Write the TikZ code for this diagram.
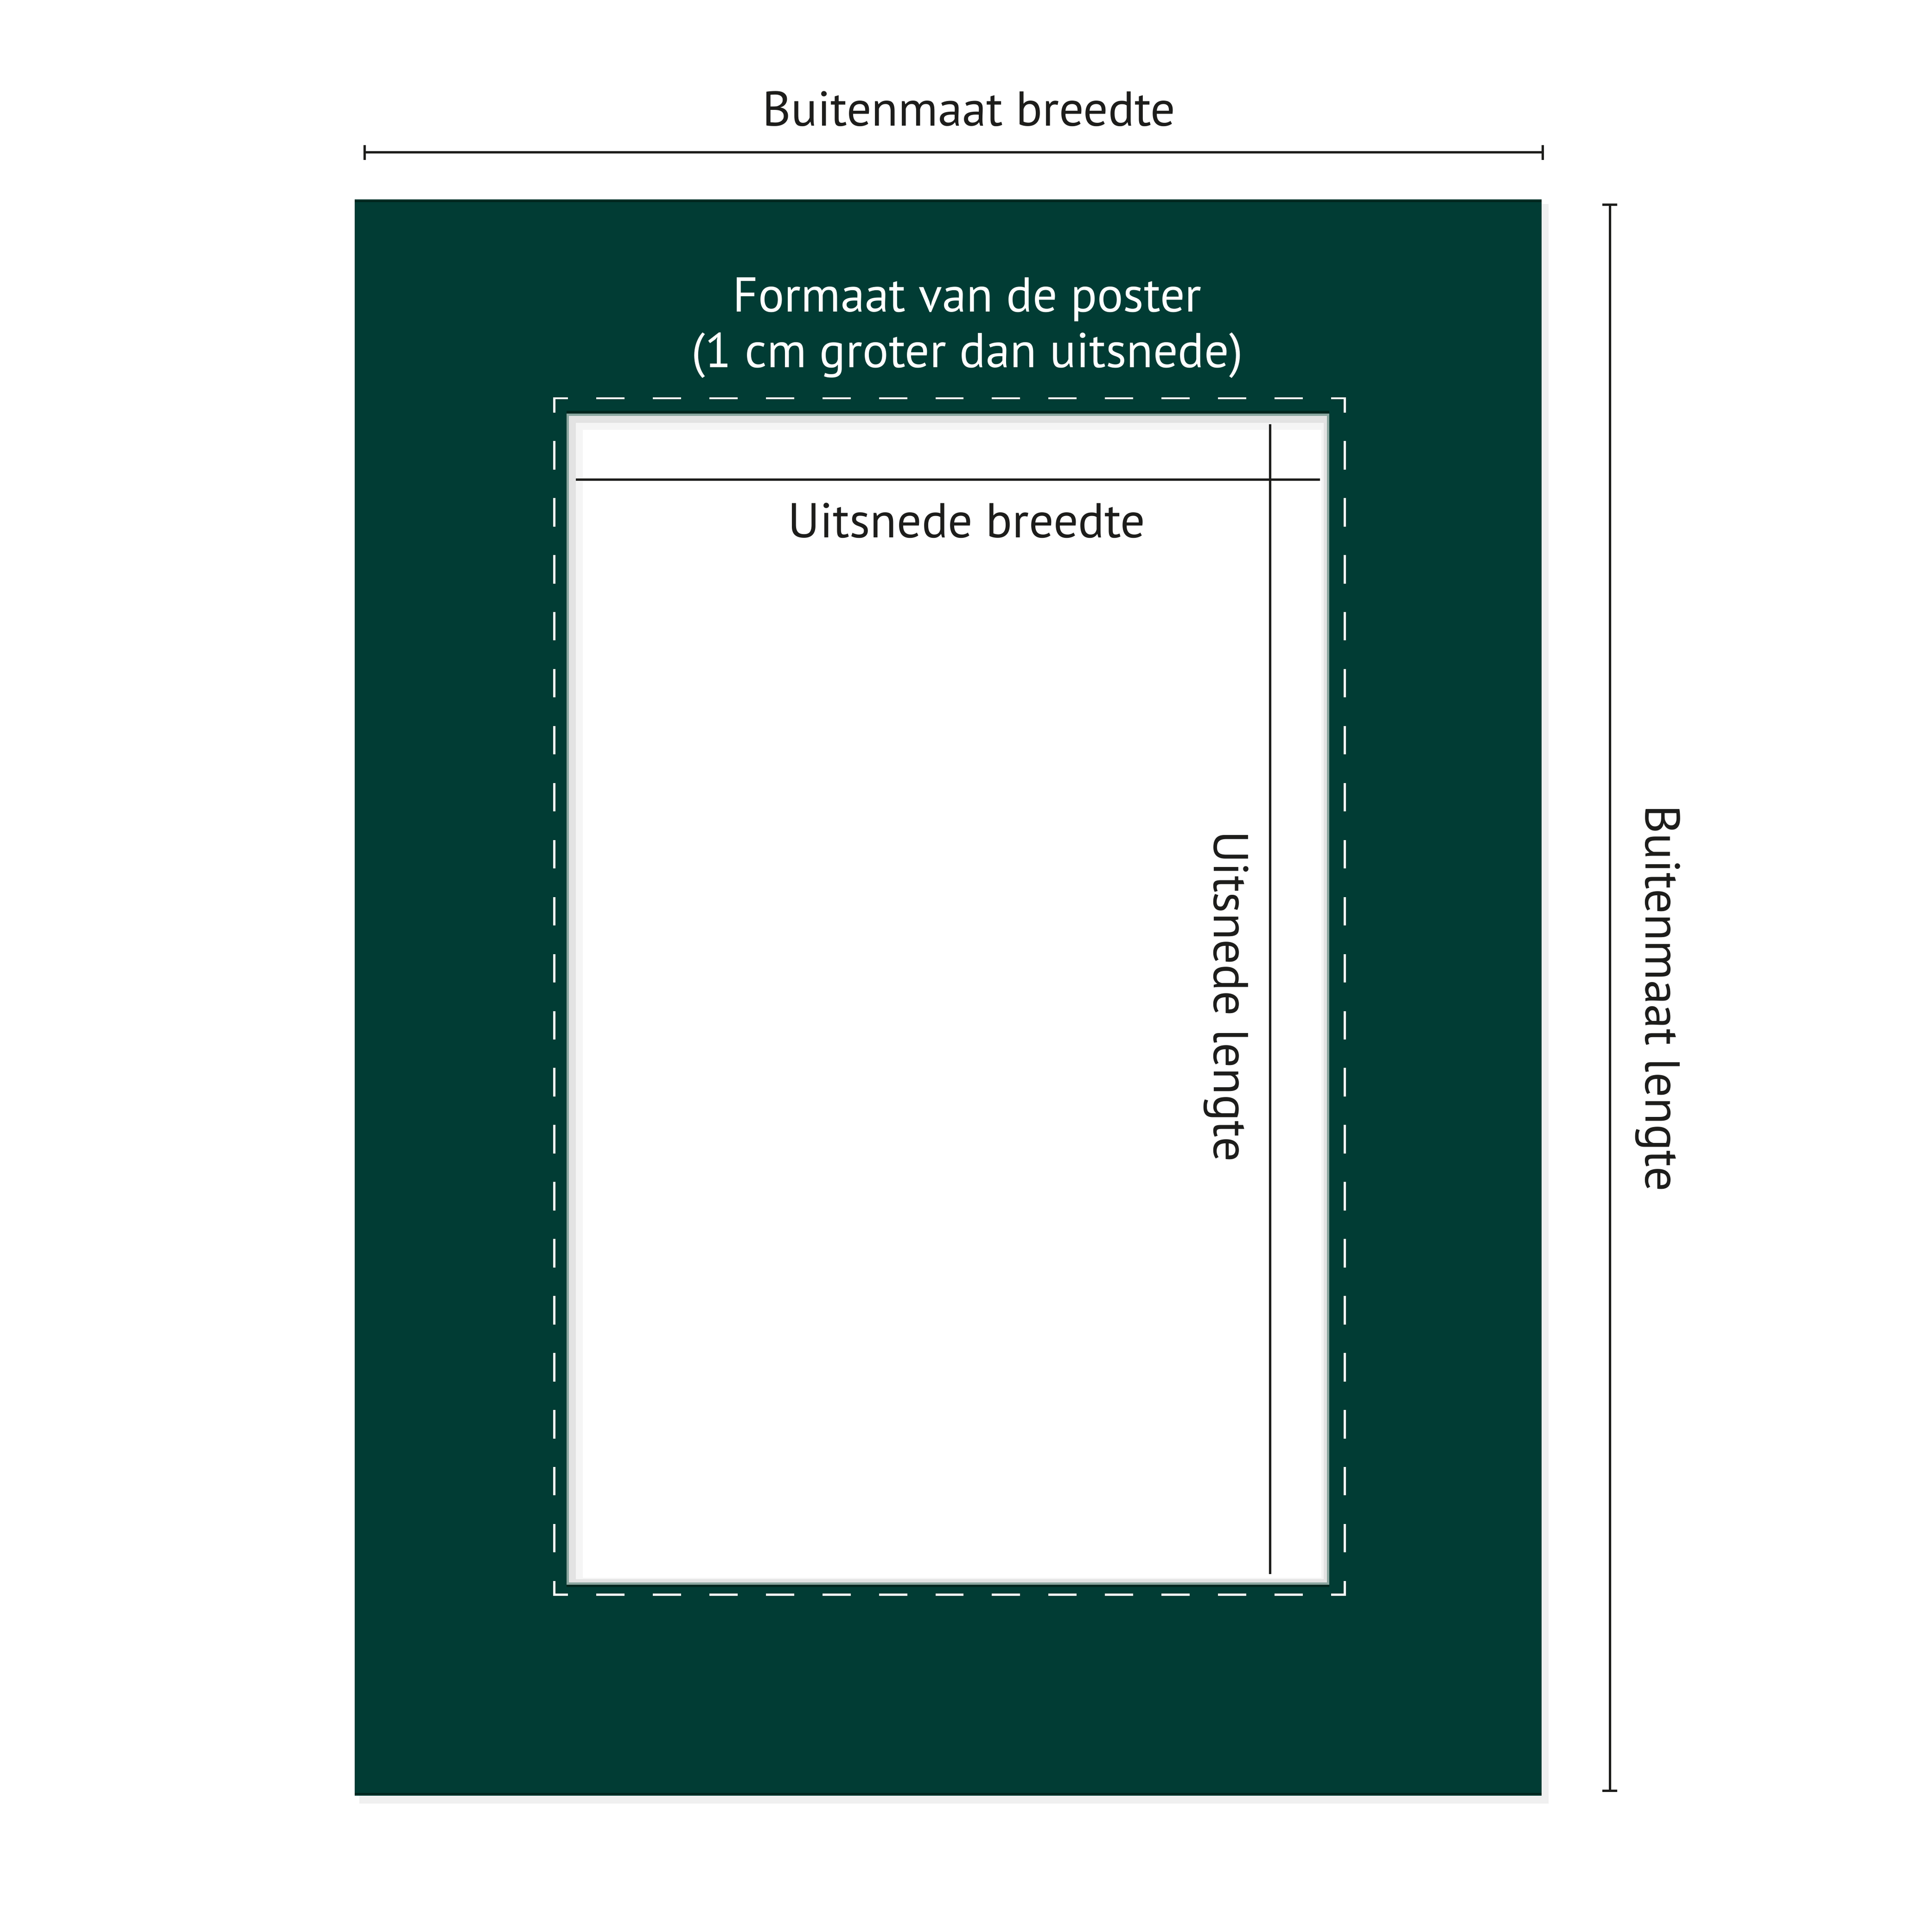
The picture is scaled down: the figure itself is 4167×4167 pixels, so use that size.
\documentclass[tikz,border=0pt]{standalone}
\usepackage{fontspec}
\setmainfont{PT Sans}
\definecolor{mat}{RGB}{1,60,52}
\definecolor{matdark}{RGB}{0,38,30}
\definecolor{ink}{RGB}{29,29,27}
\definecolor{bevel}{RGB}{138,166,159}
\tikzset{
  dimline/.style={draw=ink, line width=1.42pt},
  cutline/.style={draw=ink, line width=1.42pt},
  lbl/.style={inner sep=0pt, anchor=base, font=\fontsize{30}{34.1}\selectfont},
  cutdash/.style={draw=white, line width=1.42pt, line cap=rect},
}
\begin{document}
\begin{tikzpicture}[x=0.01cm,y=-0.01cm]
\useasboundingbox (0,0) rectangle (4167,4167);
\fill[white] (0,0) rectangle (4167,4167);
% shadow of the mat
\fill[gray!12] (775,440) rectangle (3340,3890);
% mat
\fill[mat] (765,430) rectangle (3325,3873);
\draw[matdark, line width=1pt] (765,434) -- (3325,434);
\draw[matdark, line width=1pt] (765,3869) -- (3325,3869);
% window
\fill[matdark] (1222,886) rectangle (2867,3423);
\fill[bevel] (1222,892) rectangle (2867,3418);
\fill[gray!22] (1227,897) rectangle (2862,3413);
\fill[gray!8] (1242,912) rectangle (2855,3406);
\fill[white] (1257,927) rectangle (2850,3403);
% dashed poster outline
\coordinate (pTL) at (1195,859);
\coordinate (pTR) at (2900,859);
\coordinate (pBR) at (2900,3439);
\coordinate (pBL) at (1195,3439);
\draw[cutdash, dash pattern=on 0.5589cm off 0.6589cm, dash phase=0.2794cm] (pTL) -- (pTR);
\draw[cutdash, dash pattern=on 0.5589cm off 0.6589cm, dash phase=0.2794cm] (pBL) -- (pBR);
\draw[cutdash, dash pattern=on 0.5643cm off 0.6643cm, dash phase=0.28215cm] (pTL) -- (pBL);
\draw[cutdash, dash pattern=on 0.5643cm off 0.6643cm, dash phase=0.28215cm] (pTR) -- (pBR);
% window dimension lines
\coordinate (wbL) at (1242,1034);
\coordinate (wbR) at (2847,1034);
\coordinate (wlT) at (2739,915);
\coordinate (wlB) at (2739,3395);
\draw[cutline] (wbL) -- (wbR);
\draw[cutline] (wlT) -- (wlB);
% outer width dimension
\coordinate (obL) at (786,329);
\coordinate (obR) at (3327,329);
\draw[dimline] (obL) -- (obR);
\draw[dimline] ([yshift=0.16cm]obL) -- ([yshift=-0.16cm]obL);
\draw[dimline] ([yshift=0.16cm]obR) -- ([yshift=-0.16cm]obR);
% outer length dimension
\coordinate (olT) at (3472,442);
\coordinate (olB) at (3472,3862);
\draw[dimline] (olT) -- (olB);
\draw[dimline] ([xshift=-0.16cm]olT) -- ([xshift=0.16cm]olT);
\draw[dimline] ([xshift=-0.16cm]olB) -- ([xshift=0.16cm]olB);
% labels
\node[lbl, text=ink] (tOB) at (2090,272) {Buitenmaat breedte};
\node[lbl, text=white, align=center] (tPoster) at (2086,792) {Formaat van de poster\\(1 cm groter dan uitsnede)};
\node[lbl, text=ink] (tWB) at (2085,1159) {Uitsnede breedte};
\node[lbl, text=ink, rotate=-90] (tWL) at (2618,2149) {Uitsnede lengte};
\node[lbl, text=ink, rotate=-90] (tOL) at (3549,2153) {Buitenmaat lengte};
\end{tikzpicture}
\end{document}
